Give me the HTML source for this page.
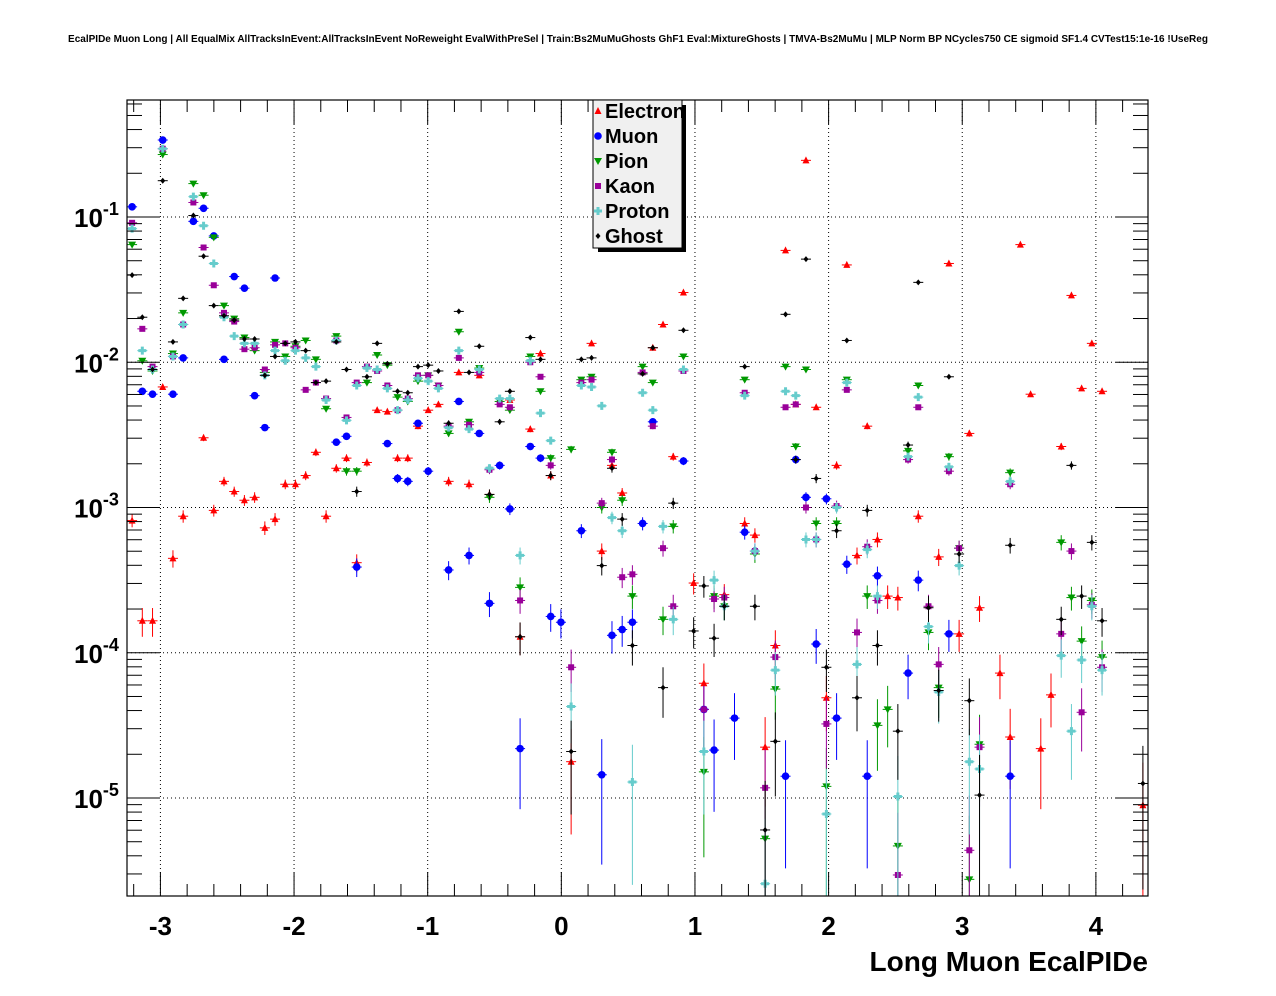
<!DOCTYPE html>
<html><head><meta charset="utf-8"><style>
html,body{margin:0;padding:0;background:#fff;}
svg{display:block;font-family:"Liberation Sans",sans-serif;}
</style></head><body>
<svg id="chart" width="1276" height="996" viewBox="0 0 1276 996">
<rect width="1276" height="996" fill="#fff"/>
<text x="638" y="42" text-anchor="middle" font-size="10" font-weight="bold">EcalPIDe Muon Long | All EqualMix AllTracksInEvent:AllTracksInEvent NoReweight EvalWithPreSel | Train:Bs2MuMuGhosts GhF1 Eval:MixtureGhosts | TMVA-Bs2MuMu | MLP Norm BP NCycles750 CE sigmoid SF1.4 CVTest15:1e-16 !UseReg</text>
<g id="grid"></g>
<g id="marks"></g>
<g id="axes"></g>
<text x="1148" y="971" text-anchor="end" font-size="28" font-weight="bold">Long Muon EcalPIDe</text>
<g id="legend"></g>
</svg>
<script>
const xTicks=[-3,-2,-1,0,1,2,3,4];
const yDecades=[-1,-2,-3,-4,-5];
const seriesNames=["Electron","Muon","Pion","Kaon","Proton","Ghost"];
// bin indices (100 bins from -3.25 to 4.39) and log10(fraction) values
const electronBins=[0,1,2,3,4,5,7,8,9,10,11,12,13,14,15,16,17,18,19,20,21,22,23,24,25,26,27,28,29,30,31,32,33,34,35,37,38,39,40,41,43,45,46,47,48,51,52,53,54,55,56,58,60,61,62,63,64,65,66,67,68,69,70,71,72,73,74,75,77,79,80,81,82,83,85,86,87,88,89,90,91,92,93,94,95,99];
const electronLogY=[-3.09,-3.78,-3.78,-2.17,-3.35,-3.06,-2.52,-3.02,-2.82,-2.89,-2.95,-2.93,-3.14,-3.08,-2.84,-2.84,-2.78,-2.62,-3.06,-2.73,-2.66,-3.38,-2.69,-2.33,-2.34,-2.66,-2.66,-2.44,-2.33,-2.29,-2.82,-2.07,-2.84,-2.09,-2.91,-2.26,-3.89,-2.46,-1.94,-2.78,-4.75,-1.87,-3.30,-2.71,-2.90,-1.90,-1.74,-2.65,-1.52,-3.52,-4.21,-3.60,-3.11,-3.19,-4.65,-3.95,-1.23,-2.29,-0.61,-2.31,-4.31,-2.71,-1.33,-3.33,-2.44,-3.22,-3.61,-3.62,-3.06,-3.34,-1.32,-3.87,-2.49,-3.69,-4.14,-4.58,-1.19,-2.22,-4.66,-4.29,-2.58,-1.54,-2.18,-1.87,-2.20,-5.05];
const muonBins=[0,1,2,3,4,5,6,7,8,9,10,11,12,13,14,20,21,22,25,26,27,28,29,31,32,33,34,35,36,37,38,39,40,41,42,44,46,47,48,49,50,51,54,56,57,59,60,61,64,65,66,67,68,69,70,72,73,76,77,80,86];
const muonLogY=[-0.93,-2.20,-2.22,-0.47,-2.22,-1.97,-1.03,-0.94,-1.13,-1.98,-1.41,-1.49,-2.23,-2.45,-1.42,-2.55,-2.51,-3.41,-2.56,-2.80,-2.82,-2.42,-2.75,-3.43,-2.27,-3.33,-2.49,-3.66,-2.71,-3.01,-4.66,-2.58,-2.66,-3.75,-3.79,-3.16,-4.84,-3.88,-3.84,-3.79,-3.11,-2.41,-2.68,-4.39,-4.67,-4.45,-3.17,-3.30,-4.85,-2.67,-2.93,-3.94,-2.94,-4.45,-3.39,-4.85,-3.47,-4.14,-3.50,-3.87,-4.85];
const pionBins=[0,1,2,3,4,5,6,7,8,9,10,11,12,13,14,15,16,17,18,19,20,21,22,23,24,25,26,27,28,29,30,31,32,33,34,35,36,37,38,39,40,41,43,44,45,46,47,48,49,50,51,52,53,54,56,57,58,60,61,62,63,64,65,66,67,68,69,70,72,73,74,75,76,77,78,79,80,81,82,83,86,91,92,93,94,95];
const pionLogY=[-1.19,-1.99,-2.06,-0.57,-1.94,-1.66,-0.77,-0.85,-1.14,-1.61,-1.70,-1.83,-1.92,-2.07,-1.86,-1.96,-1.89,-1.85,-1.98,-2.32,-1.82,-2.75,-2.75,-2.14,-1.95,-2.02,-2.24,-2.27,-2.13,-2.09,-2.16,-2.49,-1.79,-2.41,-2.04,-2.93,-2.27,-2.33,-3.55,-1.96,-2.20,-2.66,-2.60,-2.12,-2.10,-3.00,-2.62,-2.95,-3.61,-2.03,-2.14,-3.77,-3.13,-1.96,-4.82,-3.61,-3.68,-2.12,-3.32,-5.28,-4.25,-2.03,-2.58,-2.05,-3.11,-4.92,-3.11,-2.12,-3.61,-4.50,-4.39,-5.33,-2.61,-2.16,-3.86,-4.24,-2.65,-3.28,-5.56,-4.63,-2.76,-3.24,-3.62,-3.92,-3.64,-4.03];
const kaonBins=[0,1,2,3,4,5,6,7,8,9,10,11,12,13,14,15,16,17,18,19,20,21,22,23,24,25,26,27,28,29,30,31,32,33,34,35,36,37,38,39,40,41,43,44,45,46,47,48,49,50,51,52,53,54,56,57,58,60,61,62,63,64,65,66,67,68,69,70,71,72,73,75,76,77,78,79,80,81,82,83,86,91,92,93,94,95];
const kaonLogY=[-1.04,-1.77,-2.03,-0.53,-1.96,-1.74,-0.90,-1.21,-1.47,-1.66,-1.72,-1.91,-1.90,-2.05,-1.88,-1.87,-1.90,-2.19,-2.14,-2.25,-1.85,-2.38,-2.14,-2.03,-2.06,-2.16,-2.33,-2.25,-2.09,-2.09,-2.16,-2.44,-1.97,-2.43,-2.07,-2.74,-2.29,-2.31,-3.64,-2.00,-2.10,-2.71,-4.10,-2.14,-2.12,-2.97,-2.67,-3.48,-3.46,-2.07,-2.44,-3.28,-3.68,-2.06,-4.39,-3.63,-3.62,-2.21,-3.30,-4.93,-4.03,-2.31,-2.29,-3.00,-3.22,-4.49,-2.99,-2.19,-3.86,-3.27,-3.64,-5.53,-2.67,-2.31,-3.68,-4.08,-2.75,-3.28,-5.36,-4.65,-2.84,-3.87,-3.30,-4.41,-3.67,-4.10];
const protonBins=[0,1,2,3,4,5,6,7,8,9,10,11,12,13,14,15,16,17,18,19,20,21,22,23,24,25,26,27,28,29,30,31,32,33,34,35,36,37,38,39,40,41,43,44,45,46,47,48,49,50,51,52,53,54,56,57,58,60,61,62,63,64,65,66,67,68,69,70,71,72,73,75,76,77,78,79,80,81,82,83,86,91,92,93,94,95];
const protonLogY=[-1.08,-1.92,-2.05,-0.53,-1.96,-1.74,-0.86,-1.06,-1.32,-1.69,-1.82,-1.87,-1.87,-2.09,-1.92,-1.99,-1.92,-1.97,-2.03,-2.26,-1.85,-2.40,-2.16,-2.04,-2.05,-2.18,-2.33,-2.26,-2.11,-2.13,-2.18,-2.45,-1.92,-2.46,-2.05,-2.73,-2.25,-2.25,-3.33,-1.99,-2.35,-2.54,-4.37,-2.16,-2.17,-2.30,-3.07,-3.16,-4.89,-2.21,-2.33,-3.13,-3.77,-2.05,-4.68,-3.50,-3.68,-2.23,-3.30,-5.59,-4.12,-2.20,-2.23,-3.22,-3.22,-5.11,-3.00,-2.14,-4.08,-3.29,-3.61,-4.99,-2.65,-2.24,-3.82,-4.27,-2.72,-3.40,-4.75,-4.80,-2.82,-4.02,-4.54,-4.05,-3.68,-4.12];
const ghostBins=[0,1,2,3,4,5,6,7,8,9,10,11,12,13,14,15,16,17,18,19,20,21,22,23,24,25,26,27,28,29,30,31,32,33,34,35,36,37,38,39,40,41,43,44,45,46,47,48,49,50,51,52,53,54,55,56,57,58,60,61,62,63,64,65,66,67,68,69,70,71,72,73,75,76,77,78,79,80,81,82,83,86,91,92,93,94,95,99];
const ghostLogY=[-1.40,-1.69,-2.05,-0.75,-1.86,-1.56,-0.99,-1.27,-1.61,-1.68,-1.71,-1.84,-1.84,-2.09,-1.96,-1.87,-1.86,-1.92,-2.14,-2.13,-1.86,-2.05,-2.89,-2.10,-1.87,-2.01,-2.20,-2.21,-2.03,-2.02,-2.06,-2.42,-1.65,-2.07,-1.89,-2.91,-2.41,-2.20,-3.89,-1.83,-1.98,-2.78,-4.68,-1.98,-1.97,-3.40,-2.73,-3.08,-3.95,-2.08,-1.90,-4.24,-2.97,-1.78,-3.85,-3.54,-3.90,-3.68,-2.03,-3.68,-5.22,-4.61,-1.67,-2.67,-1.29,-2.80,-4.10,-3.16,-1.85,-4.31,-3.02,-3.95,-4.54,-2.57,-1.45,-3.69,-4.26,-2.10,-3.32,-4.33,-4.98,-3.26,-3.77,-2.71,-3.61,-3.24,-3.78,-4.90];

const NS="http://www.w3.org/2000/svg";
const X0=127,X1=1148,Y0=100,Y1=896;
const xMin=-3.25,xMax=4.39,binW=(xMax-xMin)/100;
const lMax=-1-(Y0-217)/145.25,lMin=-1-(Y1-217)/145.25;
function sx(v){return X0+(v-xMin)/(xMax-xMin)*(X1-X0);}
function sy(l){return Y0+(lMax-l)/(lMax-lMin)*(Y1-Y0);}
function mk(tag,attrs,parent){const e=document.createElementNS(NS,tag);for(const k in attrs)e.setAttribute(k,attrs[k]);parent.appendChild(e);return e;}
const grid=document.getElementById('grid'),axes=document.getElementById('axes'),marks=document.getElementById('marks'),legend=document.getElementById('legend');

xTicks.forEach(t=>{
  const x=sx(t);
  const g=mk('line',{x1:x,x2:x,y1:Y0,y2:Y1,stroke:'#000','stroke-width':1,'stroke-dasharray':'1,3'},grid);
  
  
  const lb=mk('text',{x:x,y:935,'text-anchor':'middle','font-size':26,'font-weight':'bold'},axes);
  lb.textContent=String(t);
  
  
});
yDecades.forEach(d=>{
  const y=sy(d);
  const g=mk('line',{x1:X0,x2:X1,y1:y,y2:y,stroke:'#000','stroke-width':1,'stroke-dasharray':'1,3'},grid);
  
  
  const lb=mk('text',{x:74,y:y+10,'font-size':26,'font-weight':'bold'},axes);
  lb.textContent='10';
  const sp=mk('tspan',{dy:-12,'font-size':18},lb);
  sp.textContent=String(d);
  
  
});
const fr=mk('rect',{x:X0,y:Y0,width:X1-X0,height:Y1-Y0,fill:'none',stroke:'#000','stroke-width':1.2},axes);


for(let v=-3.2;v<=4.39;v+=0.2){
  const r=Math.round(v*10)/10, major=Math.abs(r-Math.round(r))<1e-6;
  const x=sx(r), L=major?24:12;
  mk('line',{x1:x,x2:x,y1:Y1,y2:Y1-L,stroke:'#000'},axes);
  mk('line',{x1:x,x2:x,y1:Y0,y2:Y0+L,stroke:'#000'},axes);
}
for(let d=-6;d<=0;d++){
  for(let m=1;m<=9;m++){
    const l=d+Math.log10(m);
    if(l<lMin||l>lMax)continue;
    const y=sy(l),L=m===1?32:15;
    mk('line',{x1:X0,x2:X0+L,y1:y,y2:y,stroke:'#000'},axes);
    mk('line',{x1:X1,x2:X1-L,y1:y,y2:y,stroke:'#000'},axes);
  }
}
const colors=['#ff0000','#0000ff','#009900','#990099','#66cccc','#000000'];
const binsArr=[electronBins,muonBins,pionBins,kaonBins,protonBins,ghostBins];
const logArr=[electronLogY,muonLogY,pionLogY,kaonLogY,protonLogY,ghostLogY];
function marker(s,x,y,parent){
  const c=colors[s];
  if(s===0)return mk('polygon',{points:`${x},${y-4} ${x-3.5},${y+3} ${x+3.5},${y+3}`,fill:c},parent);
  if(s===1)return mk('circle',{cx:x,cy:y,r:3.8,fill:c},parent);
  if(s===2)return mk('polygon',{points:`${x-4},${y-3} ${x+4},${y-3} ${x},${y+4}`,fill:c},parent);
  if(s===3)return mk('rect',{x:x-3,y:y-3,width:6,height:6,fill:c},parent);
  if(s===4)return mk('path',{d:`M${x-1.5},${y-4}h3v2.5h2.5v3h-2.5v2.5h-3v-2.5h-2.5v-3h2.5z`,fill:c},parent);
  return mk('polygon',{points:`${x},${y-3} ${x+2.5},${y} ${x},${y+3} ${x-2.5},${y}`,fill:c},parent);
}
for(let s=0;s<6;s++){
  const g=mk('g',{},marks);
  
  
  const bins=binsArr[s],ly=logArr[s];
  for(let i=0;i<bins.length;i++){
    const xv=xMin+(bins[i]+0.5)*binW,x=sx(xv),y=sy(ly[i]);
    const v=Math.pow(10,ly[i]);
    const rel=1/Math.sqrt(v*1.2e5);
    const up=sy(Math.log10(v*(1+rel)));
    const lo=rel>=0.999?Y1:Math.min(Y1,sy(Math.log10(v*(1-rel))));
    mk('line',{x1:x,x2:x,y1:up,y2:lo,stroke:colors[s],'stroke-width':1},g);
    mk('line',{x1:x-5,x2:x+5,y1:y,y2:y,stroke:colors[s],'stroke-width':1},g);
    const m=marker(s,x,y,g);
    
    
  }
}
mk('rect',{x:598,y:105,width:88,height:147,fill:'#000'},legend);
const lbox=mk('rect',{x:593,y:100,width:89,height:148,fill:'#f0f0f0',stroke:'#000','stroke-width':1},legend);


for(let s=0;s<6;s++){
  const y=111+s*25;
  const g=mk('g',{},legend);
  
  
  marker(s,598,y,g);
  const t=mk('text',{x:605,y:y+7,'font-size':20,'font-weight':'bold'},g);
  t.textContent=seriesNames[s];
}
</script>
</body></html>
